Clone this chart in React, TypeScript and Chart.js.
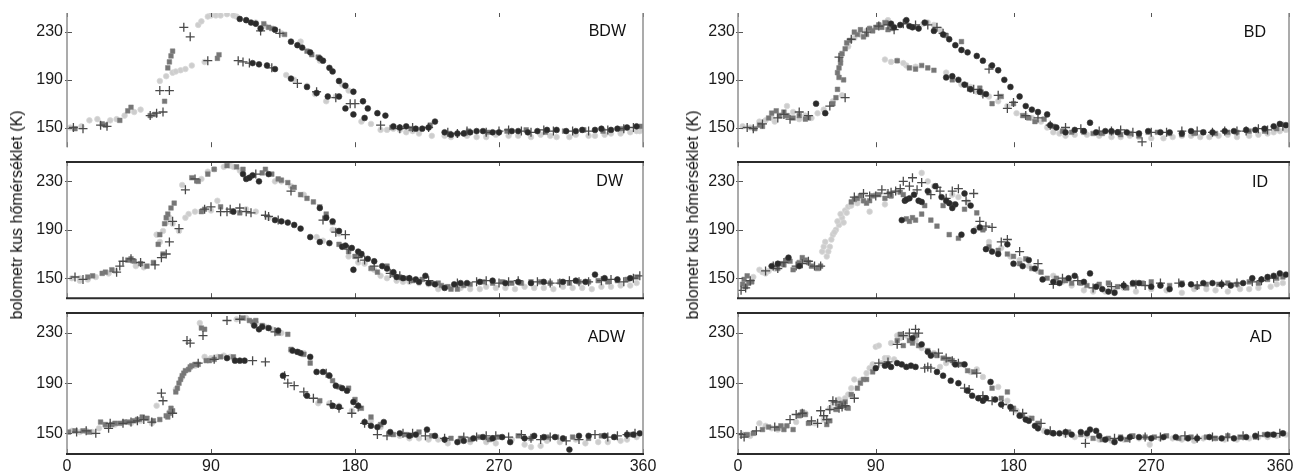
import React, { useEffect, useRef } from "react";
import { Chart, registerables } from "chart.js";

Chart.register(...registerables);

// ---------- axis / text values ----------
const xTicks = [0, 90, 180, 270, 360];
const yTicks = [150, 190, 230];
const yMin = 133.5;
const yMax = 246;
const yTitle = "bolometr kus hőmérséklet (K)";

// ---------- BDW ----------
const bdwLightX = [2, 9, 14, 19, 27, 46, 58, 62, 66, 71, 78, 82, 86, 90, 93, 100, 106, 112, 118, 130, 137, 142, 150, 155, 162, 168, 176, 190, 196, 204, 212, 220, 236, 244, 256, 268, 282, 296, 306, 318, 330, 340, 352, 358, 31, 36, 42, 68, 74, 84, 88, 96, 104, 124, 134, 146, 158, 172, 184, 200, 208, 216, 228, 240, 250, 262, 276, 290, 302, 314, 326, 336, 346, 356];
const bdwLightY = [150, 151, 156, 157, 156, 165, 189, 193, 196, 198, 202, 236, 205, 244, 244, 245, 243, 240, 238, 232, 194, 190, 185, 178, 172, 176, 181, 153, 148, 149, 146, 145, 143, 144, 142, 144, 143, 144, 142, 144, 143, 145, 146, 147, 157, 160, 163, 197, 199, 239, 243, 244, 244, 235, 229, 222, 206, 186, 155, 148, 148, 147, 143, 142, 143, 142, 143, 142, 143, 142, 143, 144, 145, 147];
const bdwMidX = [5, 22, 24, 33, 38, 40, 52, 55, 61, 63, 64, 65, 66, 94, 95, 123, 126, 150, 153, 157, 203, 215, 227, 239, 251, 263, 275, 287, 299, 311, 323, 335, 347, 359, 128, 136];
const bdwMidY = [149, 153, 152, 156, 164, 167, 160, 161, 172, 200, 205, 210, 214, 208, 211, 237, 234, 214, 211, 209, 150, 149, 152, 145, 147, 146, 147, 148, 146, 147, 148, 147, 149, 151, 233, 228];
const bdwDarkX = [108, 115, 121, 147, 152, 158, 164, 170, 179, 185, 199, 208, 212, 218, 230, 236, 240, 244, 256, 270, 282, 300, 312, 322, 334, 344, 350, 356, 116, 120, 125, 163, 170, 179, 186, 112, 118, 130, 140, 144, 160, 166, 174, 188, 194, 204, 222, 226, 248, 252, 260, 266, 278, 288, 294, 306, 318, 330, 340, 130, 140, 150, 156, 174];
const bdwDarkY = [241, 238, 233, 217, 213, 208, 200, 189, 180, 172, 160, 150, 151, 149, 155, 146, 144, 145, 147, 146, 147, 148, 147, 148, 149, 149, 150, 151, 204, 203, 202, 176, 176, 161, 158, 240, 237, 232, 222, 219, 206, 197, 185, 166, 162, 151, 149, 150, 145, 146, 147, 146, 147, 146, 147, 148, 147, 148, 148, 199, 191, 184, 179, 166];
const bdwCrossX = [4, 10, 21, 25, 52, 56, 60, 58, 64, 73, 77, 88, 107, 110, 121, 133, 177, 180, 196, 226, 250, 262, 276, 290, 304, 326, 348, 114, 128, 144, 156, 168, 208, 216, 238, 244, 270, 284, 298, 316, 338, 354];
const bdwCrossY = [150, 149, 152, 151, 160, 162, 163, 181, 181, 234, 226, 206, 206, 205, 231, 229, 170, 170, 152, 150, 147, 146, 148, 146, 147, 147, 149, 204, 200, 187, 180, 175, 149, 150, 146, 145, 147, 147, 148, 147, 148, 150];

// ---------- DW ----------
const dwLightX = [3, 8, 13, 18, 43, 56, 58, 60, 70, 76, 80, 84, 88, 94, 98, 102, 108, 130, 140, 148, 156, 166, 186, 196, 206, 214, 226, 240, 252, 262, 274, 286, 298, 310, 322, 334, 346, 356, 8, 62, 26, 30, 48, 64, 66, 72, 74, 90, 92, 104, 112, 118, 126, 134, 160, 170, 176, 182, 192, 200, 210, 220, 232, 246, 258, 268, 280, 292, 304, 316, 328, 340, 352];
const dwLightY = [150, 150, 149, 151, 160, 186, 180, 189, 189, 203, 205, 232, 238, 214, 242, 243, 239, 230, 226, 219, 184, 190, 162, 152, 148, 147, 145, 142, 141, 143, 142, 143, 142, 143, 142, 143, 144, 146, 148, 196, 154, 156, 159, 200, 195, 227, 200, 206, 240, 242, 207, 205, 200, 230, 181, 187, 168, 163, 157, 150, 147, 146, 141, 142, 141, 142, 141, 142, 141, 142, 141, 143, 144];
const dwMidX = [22, 24, 38, 40, 42, 46, 50, 54, 57, 58, 63, 65, 67, 78, 82, 88, 92, 96, 100, 122, 124, 134, 138, 146, 150, 154, 176, 180, 184, 190, 200, 212, 222, 232, 238, 244, 248, 260, 278, 296, 320, 13, 16, 28, 60, 61, 62, 84, 86, 106, 108, 110, 128, 132, 142, 158, 162, 166, 170, 194, 204, 208, 216, 228, 234, 240, 252, 266, 272, 284, 290, 302, 308, 314, 326, 332, 338, 344, 350, 356];
const dwMidY = [154, 155, 165, 166, 164, 162, 160, 163, 178, 186, 203, 208, 212, 233, 230, 236, 240, 209, 243, 237, 240, 231, 229, 219, 216, 213, 172, 168, 170, 158, 160, 150, 149, 146, 143, 141, 144, 147, 146, 147, 147, 151, 152, 157, 170, 195, 200, 205, 207, 242, 204, 240, 236, 232, 225, 209, 203, 196, 178, 155, 153, 151, 148, 146, 144, 141, 145, 146, 147, 146, 147, 146, 147, 146, 147, 148, 147, 148, 149, 151];
const dwDarkX = [104, 112, 116, 120, 142, 146, 152, 158, 162, 166, 170, 178, 182, 188, 197, 204, 210, 218, 224, 230, 236, 242, 250, 266, 290, 310, 330, 336, 352, 158, 164, 172, 179, 110, 114, 126, 130, 134, 138, 174, 184, 192, 200, 206, 214, 220, 226, 246, 258, 274, 282, 298, 318, 324, 344];
const dwDarkY = [205, 232, 235, 230, 194, 191, 184, 208, 200, 197, 189, 175, 172, 166, 160, 155, 150, 149, 152, 145, 142, 145, 146, 148, 146, 147, 153, 150, 150, 180, 179, 176, 157, 236, 233, 236, 198, 197, 196, 177, 170, 164, 158, 151, 150, 147, 146, 146, 147, 146, 147, 147, 148, 147, 149];
const dwCrossX = [5, 10, 31, 33, 35, 55, 59, 66, 70, 74, 86, 90, 100, 102, 115, 118, 126, 168, 174, 182, 186, 202, 214, 256, 270, 282, 302, 314, 326, 340, 348, 358, 40, 46, 62, 64, 80, 96, 108, 112, 124, 132, 140, 160, 176, 192, 208, 226, 244, 262, 276, 294, 308, 320, 334, 354];
const dwCrossY = [151, 149, 155, 160, 164, 161, 167, 197, 191, 223, 207, 209, 205, 207, 204, 236, 201, 188, 186, 167, 165, 154, 149, 147, 146, 148, 146, 148, 147, 149, 147, 152, 166, 163, 170, 180, 232, 205, 208, 205, 202, 198, 222, 198, 174, 160, 152, 148, 146, 148, 147, 147, 146, 147, 148, 150];

// ---------- ADW ----------
const adwLightX = [3, 8, 12, 16, 53, 56, 72, 80, 83, 98, 102, 112, 118, 128, 134, 148, 157, 164, 190, 208, 220, 232, 246, 262, 278, 290, 300, 318, 332, 346, 356, 286, 20, 24, 30, 40, 46, 64, 68, 76, 86, 90, 94, 106, 124, 140, 152, 170, 178, 196, 202, 214, 226, 238, 252, 268, 296, 308, 324, 338, 350];
const adwLightY = [152, 151, 152, 151, 158, 172, 195, 204, 238, 212, 211, 242, 238, 233, 230, 214, 174, 174, 160, 148, 146, 145, 144, 143, 145, 139, 144, 145, 143, 144, 147, 141, 154, 156, 157, 158, 160, 167, 185, 201, 211, 210, 211, 241, 235, 216, 210, 172, 168, 155, 150, 146, 145, 142, 143, 142, 140, 143, 142, 143, 145];
const adwMidX = [1, 5, 21, 28, 33, 38, 42, 47, 50, 58, 62, 64, 66, 68, 70, 72, 74, 77, 80, 84, 86, 89, 92, 110, 114, 122, 140, 144, 152, 166, 176, 184, 204, 220, 240, 252, 270, 300, 326, 342, 10, 14, 24, 30, 36, 44, 54, 63, 65, 69, 71, 73, 76, 78, 82, 87, 96, 104, 116, 118, 126, 132, 138, 148, 158, 170, 180, 190, 196, 212, 228, 246, 258, 264, 282, 290, 306, 316, 334, 352];
const adwMidY = [151, 152, 159, 157, 158, 159, 160, 163, 162, 161, 164, 166, 168, 183, 190, 196, 200, 203, 205, 234, 233, 208, 209, 242, 240, 236, 217, 215, 206, 192, 186, 170, 149, 151, 146, 145, 147, 147, 146, 147, 152, 151, 157, 158, 159, 161, 160, 163, 170, 186, 193, 198, 201, 204, 205, 208, 211, 211, 239, 240, 234, 230, 229, 213, 176, 187, 177, 163, 157, 149, 148, 146, 147, 145, 148, 146, 147, 147, 148, 149];
const adwDarkX = [105, 111, 117, 120, 122, 141, 146, 150, 156, 160, 168, 175, 179, 186, 194, 198, 208, 214, 225, 236, 244, 260, 277, 292, 305, 314, 320, 336, 350, 358, 135, 166, 170, 100, 108, 126, 132, 144, 152, 164, 172, 182, 190, 202, 218, 230, 248, 254, 266, 272, 286, 298, 310, 326, 342, 354];
const adwDarkY = [208, 208, 236, 233, 235, 216, 214, 180, 199, 199, 188, 184, 175, 159, 155, 159, 150, 148, 153, 145, 143, 147, 143, 148, 147, 137, 148, 148, 149, 150, 196, 172, 171, 210, 208, 234, 232, 215, 211, 196, 186, 172, 156, 151, 149, 148, 144, 146, 146, 147, 146, 147, 146, 148, 147, 149];
const adwCrossX = [6, 26, 27, 35, 44, 53, 60, 59, 75, 77, 85, 100, 108, 130, 136, 138, 142, 162, 165, 178, 182, 200, 210, 256, 268, 284, 296, 312, 330, 344, 355, 12, 18, 40, 48, 66, 82, 92, 116, 124, 148, 154, 170, 186, 194, 216, 224, 236, 248, 262, 276, 290, 302, 320, 338, 350];
const adwCrossY = [151, 154, 158, 158, 160, 159, 176, 182, 224, 222, 228, 240, 241, 231, 196, 190, 188, 198, 173, 166, 171, 148, 150, 147, 148, 149, 145, 144, 149, 148, 150, 152, 150, 159, 161, 166, 206, 209, 208, 207, 183, 178, 170, 158, 149, 150, 148, 146, 147, 148, 147, 146, 147, 145, 147, 149];

// ---------- BD ----------
const bdLightX = [3, 8, 14, 18, 24, 32, 44, 48, 68, 76, 86, 92, 96, 100, 104, 110, 121, 124, 128, 140, 146, 152, 160, 170, 182, 192, 206, 214, 228, 244, 256, 270, 284, 296, 308, 320, 334, 346, 354, 22, 28, 36, 40, 52, 56, 62, 72, 80, 84, 98, 108, 116, 132, 136, 156, 164, 176, 188, 198, 202, 210, 220, 236, 250, 262, 278, 290, 302, 314, 326, 340, 350, 358];
const bdLightY = [151, 150, 155, 156, 155, 168, 160, 158, 177, 225, 233, 236, 207, 205, 206, 202, 237, 238, 236, 192, 186, 184, 178, 172, 162, 158, 146, 143, 144, 142, 143, 141, 142, 143, 142, 144, 143, 145, 147, 158, 160, 163, 157, 162, 165, 172, 218, 228, 231, 240, 204, 201, 232, 196, 180, 176, 168, 160, 155, 150, 145, 144, 143, 142, 142, 141, 143, 142, 143, 142, 144, 146, 148];
const bdMidX = [11, 20, 22, 25, 27, 36, 40, 44, 62, 64, 66, 66, 67, 68, 69, 73, 78, 82, 88, 94, 98, 112, 116, 128, 136, 158, 166, 172, 186, 194, 212, 226, 238, 250, 268, 298, 320, 14, 16, 30, 32, 46, 65, 65, 67, 70, 71, 76, 80, 84, 86, 90, 92, 96, 100, 104, 120, 124, 140, 146, 180, 190, 200, 206, 218, 232, 244, 256, 262, 274, 282, 290, 304, 312, 326, 334, 344, 352];
const bdMidY = [149, 158, 162, 164, 160, 158, 160, 157, 170, 175, 192, 200, 207, 212, 190, 223, 228, 226, 231, 234, 232, 200, 199, 198, 227, 183, 170, 176, 160, 155, 147, 146, 145, 144, 146, 145, 146, 152, 151, 163, 160, 158, 182, 196, 204, 216, 221, 230, 232, 228, 233, 234, 236, 238, 233, 206, 202, 200, 190, 222, 170, 158, 157, 151, 146, 145, 146, 145, 143, 146, 145, 144, 146, 145, 146, 147, 147, 149];
const bdDarkX = [51, 57, 106, 110, 114, 118, 134, 138, 142, 146, 150, 156, 160, 170, 178, 184, 196, 202, 208, 214, 220, 230, 240, 248, 262, 276, 290, 304, 318, 332, 344, 354, 358, 136, 100, 102, 112, 122, 128, 140, 144, 148, 152, 158, 162, 166, 174, 188, 192, 204, 226, 234, 244, 254, 268, 282, 296, 310, 324, 338, 350];
const bdDarkY = [170, 162, 236, 240, 234, 233, 228, 224, 219, 215, 213, 210, 206, 198, 184, 176, 163, 161, 150, 146, 148, 154, 147, 146, 145, 146, 145, 146, 147, 148, 149, 153, 152, 192, 237, 234, 235, 238, 231, 193, 190, 186, 182, 180, 178, 202, 190, 168, 165, 152, 147, 146, 147, 146, 147, 146, 147, 146, 147, 148, 151];
const bdCrossX = [6, 10, 30, 34, 40, 60, 66, 74, 98, 102, 124, 150, 154, 164, 170, 180, 188, 204, 224, 236, 258, 264, 280, 300, 326, 340, 16, 26, 46, 70, 84, 92, 108, 116, 130, 134, 160, 176, 196, 214, 244, 250, 270, 290, 310, 318, 332, 346, 356];
const bdCrossY = [150, 149, 161, 157, 163, 168, 209, 224, 236, 232, 236, 184, 182, 199, 177, 171, 160, 152, 149, 147, 146, 138, 146, 147, 147, 149, 153, 158, 160, 175, 230, 235, 237, 236, 234, 229, 178, 166, 158, 150, 147, 148, 146, 147, 146, 147, 147, 148, 151];

// ---------- ID ----------
const idLightX = [14, 18, 20, 55, 58, 60, 62, 64, 66, 68, 70, 72, 86, 90, 100, 120, 140, 150, 178, 190, 212, 226, 240, 252, 270, 290, 306, 320, 334, 348, 356, 10, 16, 24, 56, 57, 59, 61, 63, 65, 67, 69, 71, 74, 78, 82, 96, 104, 124, 128, 144, 156, 164, 172, 184, 196, 206, 218, 232, 246, 260, 280, 298, 312, 328, 340, 352];
const idLightY = [157, 154, 156, 172, 168, 176, 186, 190, 194, 200, 206, 209, 205, 219, 218, 237, 219, 213, 168, 160, 147, 140, 139, 142, 141, 138, 141, 139, 141, 143, 146, 151, 155, 158, 176, 180, 172, 182, 188, 197, 203, 196, 204, 210, 212, 214, 211, 222, 230, 226, 217, 191, 180, 175, 165, 156, 152, 144, 139, 140, 139, 140, 141, 140, 141, 142, 145];
const idMidX = [3, 4, 6, 7, 26, 28, 36, 40, 44, 48, 52, 74, 78, 82, 88, 110, 112, 114, 116, 130, 134, 138, 144, 160, 170, 184, 188, 202, 214, 224, 236, 254, 264, 276, 300, 314, 326, 340, 352, 5, 9, 30, 32, 34, 42, 46, 54, 76, 80, 84, 86, 92, 96, 100, 106, 108, 120, 122, 126, 140, 148, 156, 164, 176, 180, 192, 198, 208, 218, 228, 242, 248, 258, 270, 282, 290, 306, 320, 334, 346, 356];
const idMidY = [145, 149, 152, 146, 158, 162, 157, 163, 165, 160, 158, 213, 216, 214, 218, 199, 197, 200, 198, 193, 210, 186, 183, 190, 173, 162, 166, 150, 148, 146, 145, 142, 146, 144, 143, 145, 145, 146, 150, 143, 147, 161, 165, 164, 167, 163, 160, 215, 218, 212, 214, 219, 216, 218, 221, 219, 203, 210, 198, 211, 207, 204, 176, 170, 168, 158, 155, 150, 146, 144, 146, 143, 145, 147, 144, 146, 145, 146, 147, 149, 151];
const idDarkX = [33, 22, 107, 109, 112, 115, 118, 129, 133, 138, 142, 146, 148, 152, 162, 166, 176, 180, 194, 199, 210, 220, 230, 238, 246, 262, 282, 296, 310, 322, 336, 346, 354, 26, 40, 110, 120, 124, 136, 140, 154, 158, 170, 186, 190, 206, 216, 226, 234, 242, 252, 258, 270, 276, 290, 304, 316, 330, 342, 350, 358];
const idDarkY = [167, 160, 198, 214, 216, 219, 214, 226, 217, 212, 211, 186, 220, 210, 174, 172, 178, 162, 158, 149, 146, 152, 154, 141, 138, 146, 141, 145, 146, 144, 150, 151, 154, 162, 160, 215, 213, 222, 214, 208, 189, 192, 170, 160, 165, 147, 150, 147, 143, 139, 144, 146, 143, 144, 145, 146, 145, 146, 149, 152, 153];
const idCrossX = [2, 5, 23, 30, 38, 46, 50, 76, 82, 90, 94, 98, 103, 108, 112, 114, 117, 130, 136, 140, 149, 154, 158, 166, 172, 206, 212, 232, 244, 266, 288, 316, 342, 8, 18, 26, 42, 54, 86, 100, 106, 120, 126, 132, 144, 162, 176, 184, 196, 222, 252, 260, 276, 300, 326, 336, 350];
const idCrossY = [140, 142, 160, 163, 160, 164, 160, 217, 220, 218, 223, 220, 222, 230, 226, 233, 223, 225, 216, 222, 214, 220, 197, 192, 180, 145, 150, 142, 143, 144, 146, 145, 148, 148, 156, 158, 162, 160, 218, 221, 224, 229, 219, 222, 224, 193, 182, 172, 162, 148, 144, 145, 146, 144, 146, 147, 150];

// ---------- AD ----------
const adLightX = [3, 8, 14, 22, 30, 44, 60, 66, 72, 76, 86, 88, 90, 92, 96, 100, 104, 106, 120, 136, 144, 160, 182, 200, 214, 228, 244, 262, 269, 284, 298, 312, 326, 340, 352, 358, 18, 26, 38, 50, 56, 62, 70, 74, 80, 84, 94, 98, 102, 110, 116, 128, 132, 152, 156, 170, 176, 190, 206, 220, 236, 252, 276, 290, 304, 318, 334, 346];
const adLightY = [149, 148, 158, 154, 155, 166, 170, 177, 181, 193, 202, 205, 219, 220, 210, 222, 228, 226, 218, 206, 205, 195, 168, 152, 149, 148, 144, 146, 141, 146, 144, 146, 145, 147, 148, 149, 156, 153, 159, 158, 161, 174, 178, 186, 192, 198, 206, 210, 209, 228, 224, 214, 203, 199, 201, 187, 176, 162, 150, 147, 145, 145, 146, 145, 146, 145, 146, 147];
const adMidX = [6, 10, 26, 32, 36, 40, 42, 64, 66, 68, 78, 80, 82, 108, 112, 124, 130, 140, 146, 150, 172, 176, 186, 192, 232, 238, 250, 258, 272, 288, 306, 320, 338, 348, 16, 20, 28, 30, 44, 46, 58, 60, 70, 72, 74, 84, 88, 104, 106, 114, 116, 118, 128, 134, 138, 154, 166, 180, 196, 206, 216, 224, 242, 246, 254, 266, 280, 296, 312, 328, 344, 356];
const adMidY = [149, 150, 154, 156, 153, 164, 167, 169, 172, 174, 186, 190, 193, 220, 224, 216, 212, 208, 205, 200, 178, 183, 164, 162, 146, 145, 147, 148, 147, 146, 147, 148, 147, 149, 153, 155, 156, 153, 165, 158, 157, 160, 175, 170, 181, 193, 199, 224, 229, 222, 228, 220, 213, 210, 209, 199, 186, 170, 158, 150, 151, 149, 146, 144, 145, 147, 148, 147, 146, 147, 149, 150];
const adDarkX = [90, 104, 107, 110, 113, 120, 124, 139, 153, 157, 160, 165, 168, 178, 190, 196, 202, 210, 218, 224, 230, 236, 240, 256, 278, 300, 316, 332, 346, 356, 148, 114, 96, 98, 100, 116, 126, 130, 134, 142, 144, 150, 162, 172, 184, 188, 194, 206, 214, 228, 234, 246, 250, 262, 270, 286, 294, 308, 324, 338, 350];
const adDarkY = [202, 206, 205, 203, 204, 221, 215, 192, 180, 178, 176, 191, 177, 171, 160, 154, 151, 150, 149, 151, 153, 148, 145, 147, 147, 146, 146, 147, 149, 150, 205, 226, 204, 205, 203, 203, 212, 199, 196, 205, 190, 184, 178, 173, 164, 161, 156, 150, 151, 150, 152, 143, 146, 147, 146, 147, 146, 147, 146, 148, 149];
const adCrossX = [2, 4, 34, 38, 48, 52, 54, 56, 62, 66, 70, 98, 116, 118, 122, 126, 131, 148, 151, 156, 173, 180, 204, 227, 246, 266, 292, 310, 330, 12, 24, 42, 58, 60, 64, 68, 76, 92, 104, 108, 112, 124, 136, 140, 144, 160, 166, 186, 198, 214, 256, 276, 300, 320, 340, 354];
const adCrossY = [149, 147, 161, 165, 160, 158, 168, 164, 176, 170, 172, 207, 233, 230, 202, 202, 214, 186, 185, 198, 173, 168, 152, 142, 146, 147, 148, 147, 148, 152, 155, 166, 161, 169, 175, 171, 178, 206, 221, 228, 230, 203, 210, 208, 206, 180, 176, 166, 158, 150, 146, 147, 146, 147, 148, 150];

// ---------- layout (not data) ----------
const FONT = '"Liberation Sans", Arial, Helvetica, sans-serif';
const TOP_PAD = 8;
const COLS = [
  { canvasLeft: 0, yAxisW: 67, plotRight: 643, padRight: 20, tickPad: 4, lastPad: "" },
  { canvasLeft: 698, yAxisW: 40, plotRight: 1289, padRight: 9, tickPad: 3, lastPad: "\u00a0\u00a0\u00a0\u00a0" },
];
const ROWS = [
  { plotTop: 13, plotBottom: 153, boxed: false, showX: false },
  { plotTop: 162, plotBottom: 304, boxed: true, showX: false },
  { plotTop: 313, plotBottom: 454, boxed: true, showX: true },
];

type PanelCfg = {
  name: string;
  col: number;
  row: number;
  light: number[][];
  mid: number[][];
  dark: number[][];
  cross: number[][];
  lr: number;
  ly: number;
};

const PANELS: PanelCfg[] = [
  { name: "BDW", col: 0, row: 0, light: [bdwLightX, bdwLightY], mid: [bdwMidX, bdwMidY], dark: [bdwDarkX, bdwDarkY], cross: [bdwCrossX, bdwCrossY], lr: 17, ly: 18.5 },
  { name: "DW", col: 0, row: 1, light: [dwLightX, dwLightY], mid: [dwMidX, dwMidY], dark: [dwDarkX, dwDarkY], cross: [dwCrossX, dwCrossY], lr: 20, ly: 20 },
  { name: "ADW", col: 0, row: 2, light: [adwLightX, adwLightY], mid: [adwMidX, adwMidY], dark: [adwDarkX, adwDarkY], cross: [adwCrossX, adwCrossY], lr: 18, ly: 24.5 },
  { name: "BD", col: 1, row: 0, light: [bdLightX, bdLightY], mid: [bdMidX, bdMidY], dark: [bdDarkX, bdDarkY], cross: [bdCrossX, bdCrossY], lr: 23, ly: 20 },
  { name: "ID", col: 1, row: 1, light: [idLightX, idLightY], mid: [idMidX, idMidY], dark: [idDarkX, idDarkY], cross: [idCrossX, idCrossY], lr: 21, ly: 21 },
  { name: "AD", col: 1, row: 2, light: [adLightX, adLightY], mid: [adMidX, adMidY], dark: [adDarkX, adDarkY], cross: [adCrossX, adCrossY], lr: 17, ly: 24.5 },
];

function pts(xs: number[], ys: number[]) {
  return xs.map((x, i) => ({ x, y: ys[i] }));
}

const framePlugin = {
  id: "frame",
  afterDatasetsDraw(chart: any, _args: any, opts: any) {
    const { ctx, chartArea: a } = chart;
    const xs = chart.scales.x;
    const ys = chart.scales.y;
    const line = (x1: number, y1: number, x2: number, y2: number) => {
      ctx.beginPath();
      ctx.moveTo(x1, y1);
      ctx.lineTo(x2, y2);
      ctx.stroke();
    };
    ctx.save();
    ctx.lineCap = "butt";
    ctx.strokeStyle = "#555";
    ctx.lineWidth = 1;
    for (const v of xTicks) {
      const px = Math.round(xs.getPixelForValue(v)) + 0.5;
      line(px, a.bottom, px, a.bottom - 5);
      line(px, a.top, px, a.top + 4);
    }
    for (const v of yTicks) {
      const py = Math.round(ys.getPixelForValue(v)) + 0.5;
      line(a.left - 2, py, a.left + 5, py);
    }
    ctx.strokeStyle = "#8f8f8f";
    ctx.lineWidth = 1.5;
    line(a.left, a.top, a.left, a.bottom);
    line(a.right, a.top, a.right, a.bottom);
    if (opts.boxed) {
      ctx.strokeStyle = "#2b2b2b";
      ctx.lineWidth = 2;
      line(a.left - 1, a.top, a.right + 1, a.top);
      line(a.left - 1, a.bottom, a.right + 1, a.bottom);
    }
    ctx.fillStyle = "#111";
    ctx.font = `16px ${FONT}`;
    ctx.textAlign = "right";
    ctx.textBaseline = "middle";
    ctx.fillText(opts.label, a.right - opts.lr, a.top + opts.ly);
    ctx.restore();
  },
};

function Panel({ cfg }: { cfg: PanelCfg }) {
  const ref = useRef<HTMLCanvasElement | null>(null);
  const col = COLS[cfg.col];
  const row = ROWS[cfg.row];
  const left = col.canvasLeft;
  const top = row.plotTop - TOP_PAD;
  const width = col.plotRight + col.padRight - col.canvasLeft;
  const xh = row.showX ? 472 - row.plotBottom : 0;
  const height = row.plotBottom - row.plotTop + TOP_PAD + xh;

  useEffect(() => {
    if (!ref.current) return;
    const mk = (d: number[][], style: any) => ({
      data: pts(d[0], d[1]),
      showLine: false,
      ...style,
    });
    const chart = new Chart(ref.current, {
      type: "scatter",
      data: {
        datasets: [
          mk(cfg.dark, { pointStyle: "circle", pointRadius: 2.9, pointBackgroundColor: "#2a2a2a", pointBorderColor: "#3a3a3a", pointBorderWidth: 0.6 }),
          mk(cfg.cross, { pointStyle: "cross", pointRadius: 4.5, pointBackgroundColor: "#4a4a4a", pointBorderColor: "#4a4a4a", pointBorderWidth: 1.3 }),
          mk(cfg.mid, { pointStyle: "rect", pointRadius: 3.3, pointBackgroundColor: "#767676", pointBorderColor: "#808080", pointBorderWidth: 0.5 }),
          mk(cfg.light, { pointStyle: "circle", pointRadius: 2.8, pointBackgroundColor: "#cdcdcd", pointBorderColor: "#d8d8d8", pointBorderWidth: 0.8 }),
        ] as any,
      },
      options: {
        animation: false,
        responsive: false,
        maintainAspectRatio: false,
        events: [],
        layout: { padding: { left: 0, right: col.padRight, top: TOP_PAD, bottom: 0 } },
        plugins: {
          legend: { display: false },
          tooltip: { enabled: false },
          frame: { boxed: row.boxed, label: cfg.name, lr: cfg.lr, ly: cfg.ly },
        } as any,
        scales: {
          x: {
            type: "linear",
            min: 0,
            max: 360,
            afterBuildTicks: (s: any) => {
              s.ticks = xTicks.map((v) => ({ value: v }));
            },
            ticks: {
              display: row.showX,
              font: { family: FONT, size: 16 },
              color: "#1a1a1a",
              padding: 3,
              maxRotation: 0,
              autoSkip: false,
              callback: (v: any) => (v === 360 ? "360" + col.lastPad : String(v)),
            },
            grid: { display: false, drawTicks: false },
            border: { display: false },
            afterFit: (s: any) => {
              s.height = xh;
              s.paddingLeft = 0;
              s.paddingRight = 0;
            },
          },
          y: {
            type: "linear",
            min: yMin,
            max: yMax,
            afterBuildTicks: (s: any) => {
              s.ticks = yTicks.map((v) => ({ value: v }));
            },
            ticks: {
              font: { family: FONT, size: 16 },
              color: "#1a1a1a",
              padding: col.tickPad,
              autoSkip: false,
            },
            grid: { display: false, drawTicks: false },
            border: { display: false },
            afterFit: (s: any) => {
              s.width = col.yAxisW;
              s.paddingTop = 0;
              s.paddingBottom = 0;
            },
          },
        },
      } as any,
      plugins: [framePlugin as any],
    });
    return () => chart.destroy();
  }, []);

  return (
    <canvas
      ref={ref}
      width={width}
      height={height}
      style={{ position: "absolute", left, top, width, height }}
    />
  );
}

export default function App() {
  const titleStyle = (cx: number): React.CSSProperties => ({
    position: "absolute",
    left: cx,
    top: 215,
    transform: "translate(-50%, -50%) rotate(-90deg)",
    font: `16px ${FONT}`,
    color: "#111",
    whiteSpace: "nowrap",
  });
  return (
    <div
      style={{
        position: "fixed",
        left: 0,
        top: 0,
        width: 1298,
        height: 472,
        background: "#fff",
        overflow: "hidden",
      }}
    >
      {PANELS.map((p) => (
        <Panel key={p.name} cfg={p} />
      ))}
      <div style={titleStyle(17)}>{yTitle}</div>
      <div style={titleStyle(693)}>{yTitle}</div>
    </div>
  );
}
